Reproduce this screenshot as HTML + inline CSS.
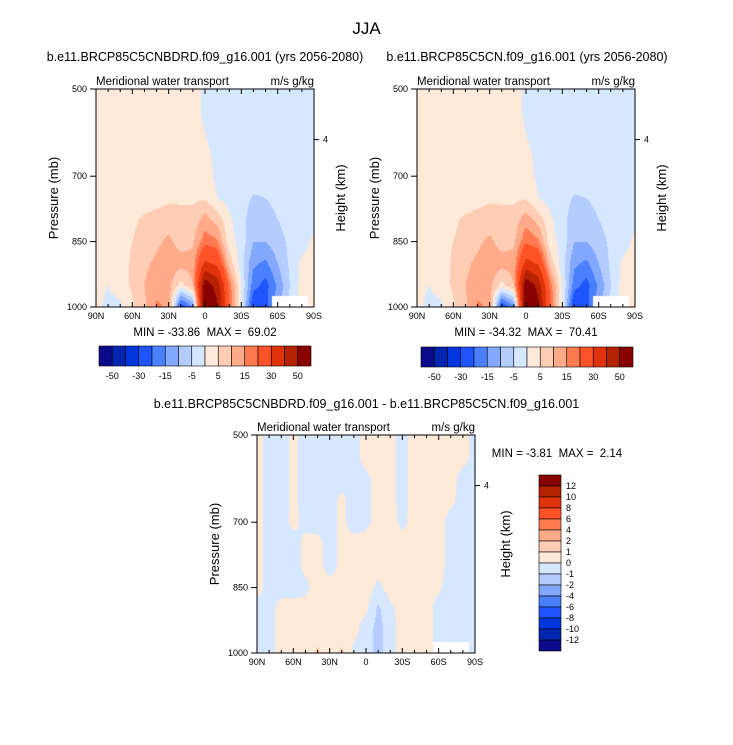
<!DOCTYPE html>
<html><head><meta charset="utf-8">
<style>
body{margin:0;background:#fff;width:733px;height:745px;overflow:hidden;position:relative;font-family:"Liberation Sans",sans-serif;color:#000}
.t{position:absolute;white-space:nowrap}
canvas{position:absolute}
svg{position:absolute;left:0;top:0}
svg text{white-space:pre}
</style></head><body>
<div class="t" style="left:0;width:733px;text-align:center;top:19px;font-size:17px">JJA</div>
<div class="t" style="left:45px;width:320px;text-align:center;top:50px;font-size:12.5px">b.e11.BRCP85C5CNBDRD.f09_g16.001 (yrs 2056-2080)</div>
<div class="t" style="left:367px;width:320px;text-align:center;top:50px;font-size:12.5px">b.e11.BRCP85C5CN.f09_g16.001 (yrs 2056-2080)</div>
<div class="t" style="left:100px;width:533px;text-align:center;top:397px;font-size:12.5px">b.e11.BRCP85C5CNBDRD.f09_g16.001 - b.e11.BRCP85C5CN.f09_g16.001</div>
<canvas id="c1" width="218" height="218" style="left:96px;top:89px"></canvas>
<canvas id="c2" width="218" height="218" style="left:417px;top:89px"></canvas>
<canvas id="c3" width="218" height="218" style="left:257px;top:435px"></canvas>
<svg id="ov" width="733" height="745"></svg>
<script>
// Top contour levels and colors
const topLevels=[-50,-40,-30,-20,-15,-10,-5,0,5,10,15,20,30,40,50];
const topLabels=["-50","-30","-15","-5","5","15","30","50"];
const diffLevels=[-12,-10,-8,-6,-4,-2,-1,0,1,2,4,6,8,10,12];
const diffLabels=["12","10","8","6","4","2","1","0","-1","-2","-4","-6","-8","-10","-12"];
const colors=["#0a0a8a","#0026b0","#0036dc","#1e55ff","#4a80ff","#82a8ff","#b4ccff","#d6e8ff","#ffe9d9","#ffccb4","#ffaa88","#ff7a50","#ff5227","#e0330c","#b52200","#880000"];
const lats=[90,80,70,60,50,40,30,20,10,0,-10,-20,-30,-40,-50,-60,-70,-80,-90];
const pres=[500,550,600,650,700,750,800,850,900,950,1000];
// left panel (BDRD) values [pressure row][lat col]
const fieldA=[
[2,2,2,2,2,2,2,2,2,-1,-2,-2,-2,-2,-2,-2,-2,-2,-2],
[2,2,2,2,2,2,2,2,2,-1,-2,-2,-2,-2,-2,-2,-2,-2,-2],
[2,2,2,2,2,2,2,2,2,0,-2,-2,-2,-2,-2,-2,-2,-2,-2],
[2,2,2,2,2,2,2,2,2,1,-1,-2,-2,-2,-2,-2,-2,-2,-1],
[2,2,2,2,2,2,2,3,2,2,-1,-2,-2,-2.5,-2.5,-2,-2,-2,-1],
[2,2,2,2,2,3,4,4.5,4,4.5,0,-2,-3,-5.5,-5,-3,-2,-2,-1],
[2,2,3,4,6,7,8,6,7,12,8,1,-3,-8,-8,-5,-3,-2,-1],
[1,2,3,5,7,9,11,8,9,18,16,2,-2,-10,-10,-7,-4,-2,1],
[1,1,2,6,9,11,13,12,12,32,28,8,-3,-14,-16,-10,-4,1,2],
[1,0,2,6,10,13,12,3,10,56,46,18,0,-18,-22,-14,-5,2,3],
[1,-1,-1,4,9,16,14,-25,-15,62,52,20,0,-26,-22,-12,-4,3,3]];
// right panel (CN) values
const fieldB=[
[2,2,2,2,2,2,2,2,2,-1,-2,-2,-2,-2,-2,-2,-2,-2,-2],
[2,2,2,2,2,2,2,2,2,-1,-2,-2,-2,-2,-2,-2,-2,-2,-2],
[2,2,2,2,2,2,2,2,2,0,-2,-2,-2,-2,-2,-2,-2,-2,-2],
[2,2,2,2,2,2,2,2,2,1,-1,-2,-2,-2,-2,-2,-2,-2,-1],
[2,2,2,2,2,2,2,3,2,2,-1,-2,-2,-2.5,-2.5,-2,-2,-2,-1],
[2,2,2,2,2,3,4,4.5,4,4.5,0,-2,-3,-5.5,-5,-3,-2,-2,-1],
[2,2,3,4,6,7,8,6,7,13,8,1,-3,-8,-8,-5,-3,-2,-1],
[1,2,3,5,7,9,11,8,9,19,16,2,-2,-10,-10,-7,-4,-2,1],
[1,1,2,6,9,11,13,12,12,33,29,8,-3,-14,-16,-10,-4,1,2],
[1,0,2,6,10,13,12,3,10,57,47,18,0,-18,-22,-14,-5,2,3],
[1,-1,-1,4,9,16,14,-26,-16,64,53,20,0,-27,-22,-12,-4,3,3]];
// difference panel values
const fieldD=[
[0.5,-0.5,-0.5,0.3,-0.5,-0.5,-0.5,-0.5,-0.5,0.5,0.5,0.5,-0.5,0.5,0.5,0.5,0.5,0.5,-0.5],
[0.5,-0.5,-0.5,0.3,-0.5,-0.5,-0.5,-0.5,-0.5,0.5,0.5,0.5,-0.5,0.5,0.5,0.5,0.5,0.5,-0.5],
[0.5,-0.5,-0.5,0.3,-0.5,-0.5,-0.5,-0.5,-0.5,-0.3,0.5,0.5,-0.5,0.5,0.5,0.5,0.5,-0.5,-0.5],
[0.5,-0.5,-0.5,0.3,-0.5,-0.5,-0.5,0.3,-0.5,-0.3,0.5,0.5,-0.5,0.5,0.5,0.5,0.3,-0.5,-0.5],
[0.5,-0.5,-0.5,0.3,-0.3,-0.5,-0.5,0.3,-0.5,-0.3,0.5,0.5,-0.3,0.5,0.5,0.5,-0.5,-0.5,-0.5],
[0.5,-0.5,-0.5,-0.5,0.3,0.4,-0.5,0.3,0.4,0.5,0.5,0.5,0.5,0.5,0.5,0.5,-0.5,-0.5,-0.5],
[0.5,-0.5,-0.5,-0.5,0.3,0.4,-0.5,0.3,0.4,0.5,0.5,0.5,0.5,0.5,0.5,0.5,-0.5,-0.5,-0.5],
[0.5,-0.5,-0.5,-0.5,-0.3,0.5,0.5,0.5,0.4,0.5,-0.3,0.5,0.5,0.5,0.5,0.2,-0.5,-0.5,-0.5],
[-0.5,-0.5,0.5,0.5,0.5,0.5,0.5,0.5,0.3,0.2,-1.2,-0.3,0.5,0.5,0.5,-0.5,-0.5,-0.5,-0.5],
[-0.5,-0.5,0.5,0.5,0.5,0.5,0.5,0.5,0.3,-0.5,-1.4,-0.5,0.5,0.5,0.5,-0.5,-0.5,-0.5,-0.5],
[-0.5,-0.5,0.5,0.5,0.5,1.2,0.5,1.2,-0.3,-0.5,-1.4,-0.5,0.5,0.5,0.5,-0.5,-0.5,-0.5,-0.5]];

function colorFor(v,levels){let i=0;while(i<levels.length&&v>=levels[i])i++;return colors[i];}
function hex(c){return [parseInt(c.substr(1,2),16),parseInt(c.substr(3,2),16),parseInt(c.substr(5,2),16)];}
function render(id,field,levels,W,H){
  const cv=document.getElementById(id),ctx=cv.getContext('2d');
  const img=ctx.createImageData(W,H);
  const nc=lats.length,nr=pres.length;
  for(let y=0;y<H;y++){
    const p=500+500*(y+0.5)/H; const fr=(p-500)/50; let r=Math.min(Math.floor(fr),nr-2); const ty=fr-r;
    for(let x=0;x<W;x++){
      const lat=90-180*(x+0.5)/W; const fc=(90-lat)/10; let c=Math.min(Math.floor(fc),nc-2); const tx=fc-c;
      const v=(field[r][c]*(1-tx)+field[r][c+1]*tx)*(1-ty)+(field[r+1][c]*(1-tx)+field[r+1][c+1]*tx)*ty;
      let rgb=hex(colorFor(v,levels));
      if(lat<=-55&&lat>=-85&&p>=975) rgb=[255,255,255];
      const k=(y*W+x)*4; img.data[k]=rgb[0];img.data[k+1]=rgb[1];img.data[k+2]=rgb[2];img.data[k+3]=255;
    }
  }
  ctx.putImageData(img,0,0);
}
render('c1',fieldA,topLevels,218,218);
render('c2',fieldB,topLevels,218,218);
render('c3',fieldD,diffLevels,218,218);

const NS='http://www.w3.org/2000/svg';
const ov=document.getElementById('ov');
function el(tag,attrs,txt){const e=document.createElementNS(NS,tag);for(const k in attrs)e.setAttribute(k,attrs[k]);if(txt!==undefined)e.textContent=txt;ov.appendChild(e);return e;}
const latTicks=[90,60,30,0,-30,-60,-90];
const latTickLabels=["90N","60N","30N","0","30S","60S","90S"];
const presTicks=[500,700,850,1000];
function axes(L,T,S,pfx,minmax,minx,miny,hx){
  const xs=lat=>L+(90-lat)/180*S, ys=p=>T+(p-500)/500*S;
  let r=el('rect',{x:L,y:T,width:S,height:S,fill:'none',stroke:'#000','stroke-width':1});
  
  for(let lat=90;lat>=-90;lat-=10){const X=xs(lat);const mj=lat%30===0;
    el('line',{x1:X,x2:X,y1:T+S,y2:T+S-(mj?5:3),stroke:'#000'});el('line',{x1:X,x2:X,y1:T,y2:T+(mj?5:3),stroke:'#000'});}
  latTicks.forEach((lat,i)=>{const t=el('text',{x:xs(lat),y:T+S+12,'font-size':9,'text-anchor':'middle'},latTickLabels[i]);
    });
  presTicks.forEach(p=>{el('line',{x1:L-6,x2:L,y1:ys(p),y2:ys(p),stroke:'#000'});
    const t=el('text',{x:L-9,y:ys(p)+3,'font-size':9,'text-anchor':'end'},String(p));
    });
  const hy=ys(616);el('line',{x1:L+S,x2:L+S+5,y1:hy,y2:hy,stroke:'#000'});
  el('text',{x:L+S+9,y:hy+3,'font-size':9},'4');
  let a=el('text',{x:L-38,y:T+S/2,'font-size':13,'text-anchor':'middle',transform:`rotate(-90 ${L-38} ${T+S/2})`},'Pressure (mb)');
  
  let b=el('text',{x:hx,y:T+S/2,'font-size':13,'text-anchor':'middle',transform:`rotate(-90 ${hx} ${T+S/2})`},'Height (km)');
  
  let c=el('text',{x:L,y:T-4,'font-size':11.5},'Meridional water transport');
  
  let d=el('text',{x:L+S,y:T-4,'font-size':11.5,'text-anchor':'end'},'m/s g/kg');
  
  let m=el('text',{x:minx,y:miny,'font-size':11.5,'text-anchor':'middle'},minmax);
  
}
axes(96,89,218,'left','MIN = -33.86  MAX =  69.02',205,336,345);
axes(417,89,218,'right','MIN = -34.32  MAX =  70.41',526,336,666);
axes(257,435,218,'diff','MIN = -3.81  MAX =  2.14',557,457,510);

function hbar(L,T,W,H,pfx){const n=colors.length,bw=W/n;
  colors.forEach((c,i)=>{const r=el('rect',{x:L+i*bw,y:T,width:bw,height:H,fill:c,stroke:'#000','stroke-width':0.6});
    });
  topLabels.forEach((lb,i)=>{const t=el('text',{x:L+(1+2*i)*bw,y:T+H+13,'font-size':9,'text-anchor':'middle'},lb);
    });
}
hbar(99,346,212,20,'left');hbar(421,347,212,20,'right');
(function(){const L=539,T=475,W=22,H=176,n=colors.length,bh=H/n;
  colors.slice().reverse().forEach((c,i)=>{const r=el('rect',{x:L,y:T+i*bh,width:W,height:bh,fill:c,stroke:'#000','stroke-width':0.6});
    });
  diffLabels.forEach((lb,i)=>{const t=el('text',{x:L+W+5,y:T+(i+1)*bh+3,'font-size':9},lb);
    });
})();
</script>
</body></html>
